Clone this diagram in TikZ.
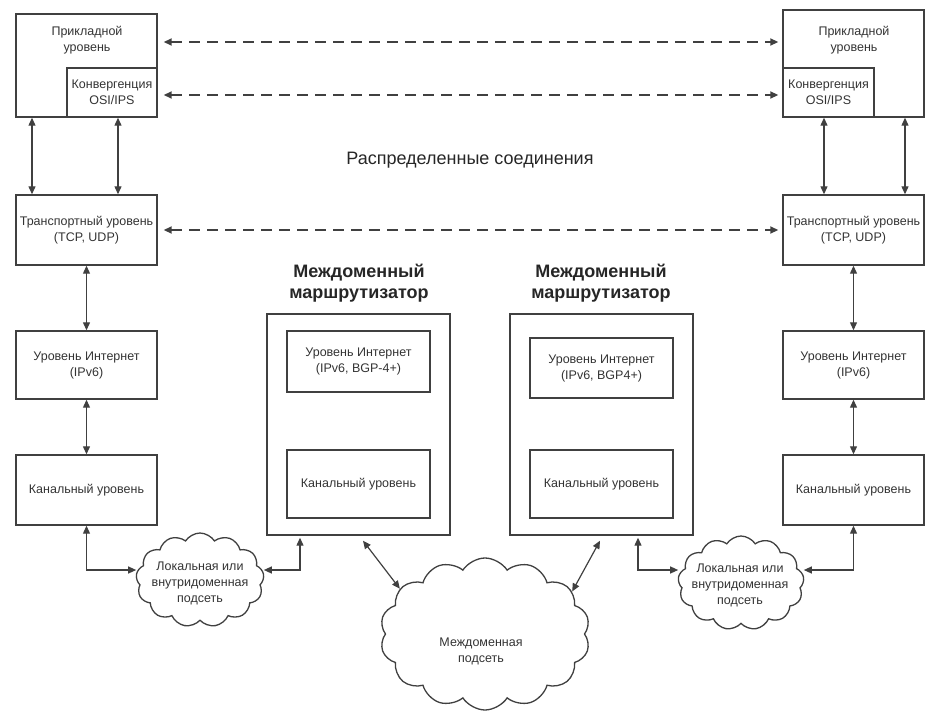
\documentclass[tikz,border=0pt]{standalone}
\usepackage{fontspec}
\setmainfont{Liberation Sans}
\usetikzlibrary{shapes.symbols,arrows.meta,calc}
\begin{document}
\begin{tikzpicture}[x=1pt,y=-1pt,
  lay/.style={draw=black!75, line width=1.4pt, inner sep=0pt, align=center,
    font=\fontsize{12.5}{16}\selectfont, text=black!80},
  txt/.style={inner sep=0pt, align=center, font=\fontsize{12.5}{16}\selectfont, text=black!80},
  rlabel/.style={inner sep=0pt, align=center, font=\bfseries\fontsize{18}{21}\selectfont, text=black!85},
  cl/.style={cloud, draw=black!75, line width=1.3pt, cloud puffs=13, cloud puff arc=115,
    inner sep=0pt},
  con/.style={draw=black!75, line width=1.2pt,
    {Triangle[length=8pt,width=7pt]}-{Triangle[length=8pt,width=7pt]}},
  dcon/.style={con, line width=1.7pt, dash pattern=on 11pt off 7pt},
]
\useasboundingbox (0,0) rectangle (929,712);

% left host
\node[lay, minimum width=141pt, minimum height=103pt] (appL) at (86.5,65.5) {};
\node[txt] (appLt) at (87,40) {Прикладной\\уровень};
\node[lay, minimum width=90pt, minimum height=49pt] (cvL) at (112,92.5) {Конвергенция\\OSI/IPS};
\node[lay, minimum width=141pt, minimum height=70pt] (trL) at (86.5,230) {Транспортный уровень\\(TCP, UDP)};
\node[lay, minimum width=141pt, minimum height=68pt] (inL) at (86.5,365) {Уровень Интернет\\(IPv6)};
\node[lay, minimum width=141pt, minimum height=70pt] (chL) at (86.5,490) {Канальный уровень};

% right host
\node[lay, minimum width=141pt, minimum height=107pt] (appR) at (853.5,63.5) {};
\node[txt] (appRt) at (854,40) {Прикладной\\уровень};
\node[lay, minimum width=91pt, minimum height=49pt] (cvR) at (828.5,92.5) {Конвергенция\\OSI/IPS};
\node[lay, minimum width=141pt, minimum height=70pt] (trR) at (853.5,230) {Транспортный уровень\\(TCP, UDP)};
\node[lay, minimum width=141pt, minimum height=68pt] (inR) at (853.5,365) {Уровень Интернет\\(IPv6)};
\node[lay, minimum width=141pt, minimum height=70pt] (chR) at (853.5,490) {Канальный уровень};

% routers
\node[rlabel] (r1t) at (359,283) {Междоменный\\маршрутизатор};
\node[lay, minimum width=183pt, minimum height=221pt] (r1) at (358.5,424.5) {};
\node[lay, minimum width=143pt, minimum height=61pt] (r1in) at (358.5,361.5) {Уровень Интернет\\(IPv6, BGP-4+)};
\node[lay, minimum width=143pt, minimum height=68pt] (r1ch) at (358.5,484) {Канальный уровень};

\node[rlabel] (r2t) at (601,283) {Междоменный\\маршрутизатор};
\node[lay, minimum width=183pt, minimum height=221pt] (r2) at (601.5,424.5) {};
\node[lay, minimum width=143pt, minimum height=60pt] (r2in) at (601.5,368) {Уровень Интернет\\(IPv6, BGP4+)};
\node[lay, minimum width=143pt, minimum height=68pt] (r2ch) at (601.5,484) {Канальный уровень};

% title
\node[inner sep=0pt, font=\fontsize{18}{22}\selectfont, text=black!85] (title) at (470,160) {Распределенные соединения};

% clouds
\node[cl, minimum width=128pt, minimum height=94pt] (cL) at (200,580) {};
\node[txt] (cLt) at (200,583) {Локальная или\\внутридоменная\\подсеть};
\node[cl, minimum width=126pt, minimum height=94pt] (cR) at (741,583) {};
\node[txt] (cRt) at (740,585) {Локальная или\\внутридоменная\\подсеть};
\node[cl, cloud puffs=14, minimum width=210pt, minimum height=152pt] (cB) at (485,634) {};
\node[txt] (cBt) at (481,651) {Междоменная\\подсеть};

% dashed peer connections
\draw[dcon] ([xshift=6pt]appL.east |- 0,42) -- ([xshift=-4pt]appR.west |- 0,42);
\draw[dcon] ([xshift=6pt]appL.east |- 0,95) -- ([xshift=-4pt]appR.west |- 0,95);
\draw[dcon] ([xshift=6pt]trL.east) -- ([xshift=-4pt]trR.west);

% vertical stacks
\draw[con] (appL.south -| 32,0) -- (trL.north -| 32,0);
\draw[con] (appL.south -| 118,0) -- (trL.north -| 118,0);
\draw[con] (trL.south) -- (inL.north);
\draw[con] (inL.south) -- (chL.north);
\draw[con] (appR.south -| 824,0) -- (trR.north -| 824,0);
\draw[con] (appR.south -| 905,0) -- (trR.north -| 905,0);
\draw[con] (trR.south) -- (inR.north);
\draw[con] (inR.south) -- (chR.north);

% links to subnets
\draw[con] (chL.south) |- ([yshift=10pt]cL.west);
\draw[con] ([yshift=10pt]cL.east) -| ([yshift=-2pt]r1.south -| 300,0);
\draw[con] ([yshift=-5pt]r1.south -| 363,0) -- (cB.152);
\draw[con] ([yshift=-5pt]r2.south -| 600,0) -- (cB.26);
\draw[con] ([yshift=-2pt]r2.south -| 638,0) |- ([yshift=13pt]cR.west);
\draw[con] ([yshift=13pt]cR.east) -| (chR.south);
\end{tikzpicture}
\end{document}
